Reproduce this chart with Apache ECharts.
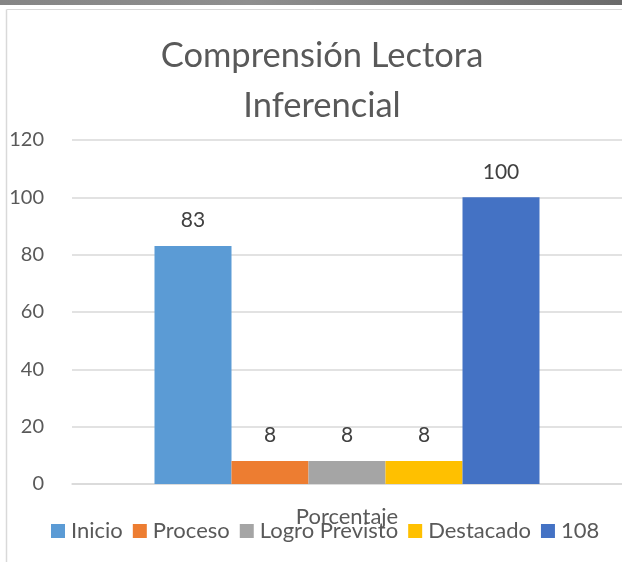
<!DOCTYPE html>
<html>
<head>
<meta charset="utf-8">
<script src="https://cdn.jsdelivr.net/npm/echarts@6/dist/echarts.min.js"></script>
<style>
html,body{margin:0;padding:0;background:#fff;}
#c{width:622px;height:562px;}
</style>
</head>
<body>
<div id="c"></div>
<script>
const titleText = "Comprensión Lectora\nInferencial";
const categories = ["Porcentaje"];
const seriesNames = ["Inicio", "Proceso", "Logro Previsto", "Destacado", "108"];
const seriesValues = [83, 8, 8, 8, 100];
const seriesColors = ["#5B9BD5", "#ED7D31", "#A5A5A5", "#FFC000", "#4472C4"];
const yTicks = { min: 0, max: 120, interval: 20 };

const FONT = "Lato, 'Open Sans', sans-serif";
const chart = echarts.init(document.getElementById('c'), null, { renderer: 'canvas' });

const series = seriesNames.map((n, i) => ({
  name: n,
  type: 'bar',
  data: [seriesValues[i]],
  itemStyle: { color: seriesColors[i] },
  barGap: '0%',
  barCategoryGap: '30%',
  label: {
    show: true, position: 'top', distance: 15,
    color: '#404040', fontSize: 21, fontFamily: FONT
  }
}));

chart.setOption({
  animation: false,
  backgroundColor: '#fff',
  title: {
    text: titleText,
    left: 317, top: 26, textAlign: 'center',
    textStyle: { color: '#595959', fontSize: 34.5, fontWeight: 'normal', fontFamily: FONT, lineHeight: 50 }
  },
  legend: {
    data: seriesNames,
    top: 515, left: 46,
    itemWidth: 14, itemHeight: 14, itemGap: 10,
    icon: 'rect',
    textStyle: { color: '#595959', fontSize: 22, fontFamily: FONT, padding: [0, 0, 0, 1] }
  },
  grid: { left: 72, top: 140, width: 554, height: 344, containLabel: false },
  xAxis: {
    type: 'category', data: categories,
    axisTick: { show: false },
    axisLine: { show: true, lineStyle: { color: '#D9D9D9', width: 1.5 } },
    axisLabel: { show: true, color: '#595959', fontSize: 22, fontFamily: FONT, margin: 22 }
  },
  yAxis: {
    type: 'value', min: yTicks.min, max: yTicks.max, interval: yTicks.interval,
    axisLine: { show: false }, axisTick: { show: false },
    splitLine: { lineStyle: { color: '#D9D9D9', width: 1.5 } },
    axisLabel: { color: '#595959', fontSize: 20, fontFamily: FONT, margin: 28 }
  },
  series: series,
  graphic: [
    { type: 'rect', shape: { x: 0, y: 0, width: 622, height: 5 },
      style: { fill: new echarts.graphic.LinearGradient(0, 0, 1, 0, [
        { offset: 0, color: '#858585' }, { offset: 0.4, color: '#8f8f8f' }, { offset: 1, color: '#6a6a6a' }]) } },
    { type: 'line', shape: { x1: 6.5, y1: 9.5, x2: 622, y2: 9.5 }, style: { stroke: '#D9D9D9', lineWidth: 1 } },
    { type: 'line', shape: { x1: 6.5, y1: 9.5, x2: 6.5, y2: 562 }, style: { stroke: '#D9D9D9', lineWidth: 1.5 } }
  ]
});
</script>
</body>
</html>
